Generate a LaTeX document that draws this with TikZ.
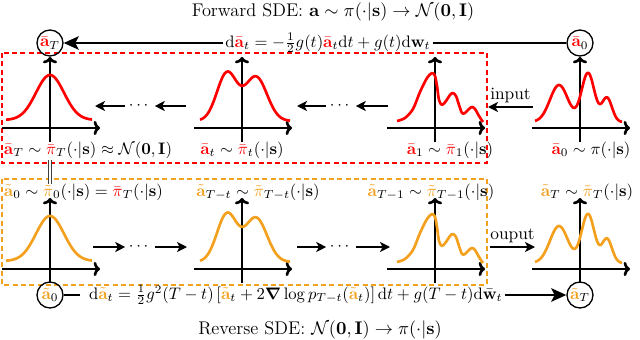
\documentclass[tikz,border=0pt]{standalone}
\usepackage{amsmath,amssymb}
\usetikzlibrary{arrows.meta}
\definecolor{myorange}{RGB}{243,160,30}
\newcommand\redA{{\color{red}\bar{\mathbf{a}}}}
\newcommand\redPi{{\color{red}\bar{\pi}}}
\newcommand\orgA{{\color{myorange}\tilde{\mathbf{a}}}}
\newcommand\orgPi{{\color{myorange}\tilde{\pi}}}
\newcommand\axesat[2]{%
  \draw[axisln] (#1-48,#2) -- (#1+50,#2);
  \draw[axisln] (#1,#2+14) -- (#1,#2-71);}
\newcommand\curveGauss[3]{\draw[curveln,#3] plot[domain=-44:42,samples=60] ({#1+\x},{#2-8-45*exp(-0.5*(\x/14)^2)});}
\newcommand\curveBi[3]{\draw[curveln,#3] plot[domain=-42:48,samples=80] ({#1+\x},{#2-7-48*exp(-0.5*((\x+15)/10)^2)-44*exp(-0.5*((\x-14)/11)^2)});}
\newcommand\curveTri[3]{\draw[curveln,#3,shift={(#1,#2)}] plot[smooth] coordinates {(-38,-7) (-30,-10) (-22,-19) (-15,-36) (-8,-50) (-3,-55) (0,-52) (2,-42) (4,-28) (7,-23) (11,-27) (15,-33) (18,-35) (21,-32) (24,-23) (27,-15) (30,-15) (34,-19) (37,-21) (40,-19) (44,-12) (48,-6)};}
\newcommand\curveData[3]{\draw[curveln,#3] plot[domain=-45:42,samples=90] ({#1+\x},{#2-6-37*exp(-0.5*((\x+21)/9)^2)-49*exp(-0.5*((\x-8)/6.5)^2)-24*exp(-0.5*((\x-27)/5)^2)});}
\begin{document}
\begin{tikzpicture}[x=0.6pt,y=-0.6pt,
  every node/.style={font=\fontsize{10.4}{12}\selectfont},
  titlefont/.style={font=\fontsize{11}{13}\selectfont},
  axisln/.style={line width=1.6pt,-{To[length=3.8pt,width=8.5pt]}},
  curveln/.style={line width=1.6pt,line join=round},
  boxln/.style={line width=0.8pt,dash pattern=on 3pt off 2pt},
  distarrow/.style={line width=0.9pt,-{Stealth[length=6pt,width=6pt,inset=1.6pt]}},
  sdeln/.style={line width=1.6pt},
  sdearrow/.style={line width=1.6pt,-{Stealth[length=9pt,width=8pt,inset=2pt]}},
  circ/.style={circle,draw,line width=0.8pt,minimum size=15.6pt,inner sep=0pt},
  lbl/.style={inner sep=1pt}]
\useasboundingbox (0,0) rectangle (640,340);
% boxes
\draw[boxln,red] (2,53) rectangle (487,163);
\draw[boxln,myorange] (2,179) rectangle (487,285);
% top SDE
\node[titlefont] (ftitle) at (333,12) {Forward SDE: $\mathbf{a}\sim\pi(\cdot|\mathbf{s})\to\mathcal{N}(\mathbf{0},\mathbf{I})$};
\node[circ] (aT) at (50,43) {$\redA_T$};
\node[circ] (a0) at (580,43) {$\redA_0$};
\node[inner sep=1pt] (feq) at (328,43) {$\mathrm{d}\redA_t=-\frac{1}{2}g(t)\redA_t\mathrm{d}t+g(t)\mathrm{d}\mathbf{w}_t$};
\draw[sdearrow] (feq.west) -- (aT.east);
\draw[sdeln] (feq.east) -- (a0.west);
% bottom SDE
\node[circ] (ta0) at (50,295) {$\orgA_0$};
\node[circ] (taT) at (580,295) {$\orgA_T$};
\node[inner sep=1pt,anchor=west] (beq) at (87,295) {$\mathrm{d}\orgA_t=\frac{1}{2}g^2(T-t)\,[\orgA_t+2\boldsymbol{\nabla}\log p_{T-t}(\orgA_t)]\,\mathrm{d}t+g(T-t)\mathrm{d}\bar{\mathbf{w}}_t$};
\draw[sdeln,shorten >=4pt] (ta0.east) -- (beq.west);
\draw[sdearrow] (beq.east) -- (taT.west);
\node[titlefont] (rtitle) at (320,330) {Reverse SDE: $\mathcal{N}(\mathbf{0},\mathbf{I})\to\pi(\cdot|\mathbf{s})$};
% top plots
\axesat{50}{128}\axesat{242}{128}\axesat{435}{128}\axesat{580}{128}
\curveGauss{50}{128}{red}
\curveBi{242}{128}{red}
\curveTri{435}{128}{red}
\curveData{580}{128}{red}
% bottom plots
\axesat{50}{269}\axesat{242}{269}\axesat{435}{269}\axesat{580}{269}
\curveGauss{50}{269}{myorange}
\curveBi{242}{269}{myorange}
\curveTri{435}{269}{myorange}
\curveData{580}{269}{myorange}
% top labels
\node[lbl,anchor=west] (l1) at (2,150) {$\redA_T\sim\redPi_T(\cdot|\mathbf{s})\approx\mathcal{N}(\mathbf{0},\mathbf{I})$};
\node[lbl] (l2) at (242,150) {$\redA_t\sim\redPi_t(\cdot|\mathbf{s})$};
\node[lbl] (l3) at (450,150) {$\redA_1\sim\redPi_1(\cdot|\mathbf{s})$};
\node[lbl] (l4) at (591,150) {$\redA_0\sim\pi(\cdot|\mathbf{s})$};
% bottom labels
\node[lbl,anchor=west] (m1) at (2,192) {$\orgA_0\sim\orgPi_0(\cdot|\mathbf{s})=\redPi_T(\cdot|\mathbf{s})$};
\node[lbl] (m2) at (258,192) {$\orgA_{T-t}\sim\orgPi_{T-t}(\cdot|\mathbf{s})$};
\node[lbl] (m3) at (431,192) {$\orgA_{T-1}\sim\orgPi_{T-1}(\cdot|\mathbf{s})$};
\node[lbl] (m4) at (587,192) {$\orgA_T\sim\orgPi_T(\cdot|\mathbf{s})$};
% equality link
\coordinate (eqT) at (50,160);
\coordinate (eqB) at (50,184);
\draw[double distance=1.5pt,line width=0.4pt,black!75] (eqT) -- (eqB);
% top row arrows
\node[inner sep=0pt] (d1) at (140,106) {$\cdots$};
\coordinate (d1a) at (95,106); \coordinate (d1b) at (186,106);
\draw[distarrow,shorten <=2pt] (d1.west) -- (d1a);
\draw[distarrow,shorten >=2pt] (d1b) -- (d1.east);
\node[inner sep=0pt] (d2) at (341,106) {$\cdots$};
\coordinate (d2a) at (297,106); \coordinate (d2b) at (388,106);
\draw[distarrow,shorten <=2pt] (d2.west) -- (d2a);
\draw[distarrow,shorten >=2pt] (d2b) -- (d2.east);
\coordinate (inA) at (533,107); \coordinate (inB) at (488,107);
\draw[distarrow] (inA) -- node[above,inner sep=2pt] {input} (inB);
% bottom row arrows
\node[inner sep=0pt] (e1) at (140,247) {$\cdots$};
\coordinate (e1a) at (93,247); \coordinate (e1b) at (187,247);
\draw[distarrow,shorten >=2pt] (e1a) -- (e1.west);
\draw[distarrow,shorten <=2pt] (e1.east) -- (e1b);
\node[inner sep=0pt] (e2) at (341,247) {$\cdots$};
\coordinate (e2a) at (297,247); \coordinate (e2b) at (390,247);
\draw[distarrow,shorten >=2pt] (e2a) -- (e2.west);
\draw[distarrow,shorten <=2pt] (e2.east) -- (e2b);
\coordinate (outA) at (490,247); \coordinate (outB) at (535,247);
\draw[distarrow] (outA) -- node[above,inner sep=2pt] {ouput} (outB);
\end{tikzpicture}
\end{document}
